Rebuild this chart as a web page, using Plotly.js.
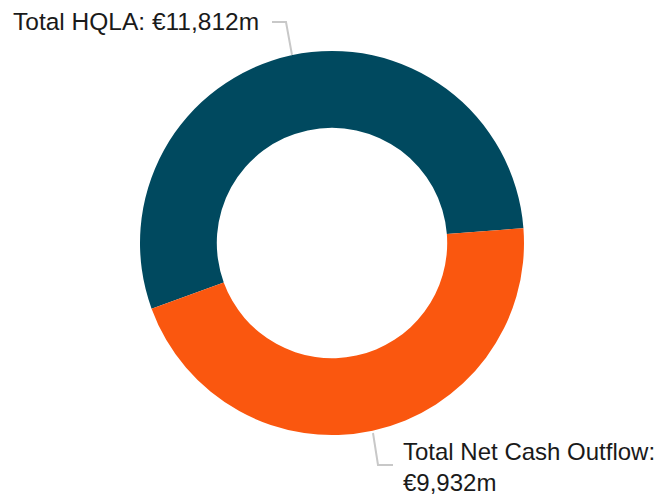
<!DOCTYPE html>
<html>
<head>
<meta charset="utf-8">
<script src="https://cdn.plot.ly/plotly-3.0.1.min.js"></script>
<style>html,body{margin:0;padding:0;background:#fff;}#chart{width:669px;height:496px;}</style>
</head>
<body>
<div id="chart"></div>
<script>
const categories = ["Total HQLA", "Total Net Cash Outflow"];
const values = [11812, 9932];
const labelTexts = ["Total HQLA: €11,812m", "Total Net Cash Outflow:<br>€9,932m"];
const colors = ["#00495F", "#FA570F"];

const W = 669, H = 496;
const px = x => x / W;
const py = y => 1 - y / H;

const trace = {
  type: "pie",
  labels: categories,
  values: values,
  hole: 0.6,
  sort: false,
  direction: "clockwise",
  rotation: 250,
  textinfo: "none",
  hoverinfo: "label+value",
  marker: { colors: colors, line: { width: 0 } },
  domain: { x: [px(140), px(524)], y: [py(435), py(51)] },
  showlegend: false
};

function pathPx(pts) {
  return pts.map((p, i) => (i ? "L" : "M") + px(p[0]) + "," + py(p[1])).join(" ");
}

const layout = {
  width: W, height: H,
  margin: { l: 0, r: 0, t: 0, b: 0 },
  paper_bgcolor: "#fff",
  showlegend: false,
  font: { family: "Liberation Sans, Arial, sans-serif", size: 24, color: "#1a1a1a" },
  annotations: [
    { text: labelTexts[0], xref: "paper", yref: "paper", x: px(11), y: py(21), xanchor: "left", yanchor: "middle", showarrow: false, align: "left", font: { size: 24.5 } },
    { text: labelTexts[1], xref: "paper", yref: "paper", x: px(401), y: py(467), xanchor: "left", yanchor: "middle", showarrow: false, align: "left", font: { size: 24 } }
  ],
  shapes: [
    { type: "path", xref: "paper", yref: "paper", path: pathPx([[272, 22], [286, 22], [292, 55]]), line: { color: "#c8c8c8", width: 2 } },
    { type: "path", xref: "paper", yref: "paper", path: pathPx([[373, 433], [378, 465], [393, 465]]), line: { color: "#c8c8c8", width: 2 } }
  ]
};

Plotly.newPlot("chart", [trace], layout, { displayModeBar: false, staticPlot: true });
</script>
</body>
</html>
